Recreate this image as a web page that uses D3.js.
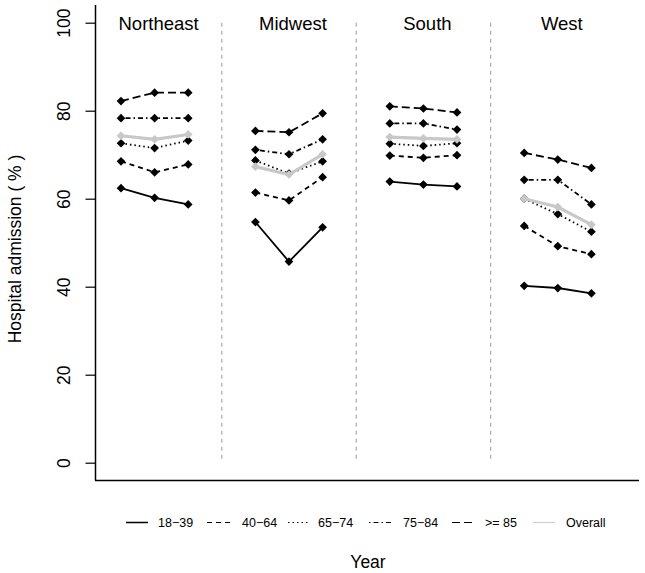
<!DOCTYPE html>
<html>
<head>
<meta charset="utf-8">
<script src="https://cdn.jsdelivr.net/npm/d3@7"></script>
<style>
  body { margin: 0; background: #fff; }
  text { font-family: "Liberation Sans", Arial, sans-serif; fill: #000; }
</style>
</head>
<body>
<div id="chart"></div>
<script>
// regions (panels) and age groups
const regions = ["Northeast", "Midwest", "South", "West"];
const periods = [1, 2, 3];
const groups = ["18−39", "40−64", "65−74", "75−84", ">= 85", "Overall"];

// values per group, 3 periods per region, regions in order above
const age1839 = [62.4, 60.2, 58.7, 54.7, 45.7, 53.5, 63.9, 63.2, 62.8, 40.2, 39.7, 38.5];
const age4064 = [68.5, 66.0, 67.8, 61.4, 59.6, 64.9, 69.8, 69.3, 69.9, 53.8, 49.2, 47.4];
const age6574 = [72.6, 71.5, 73.2, 68.7, 65.7, 68.5, 72.5, 72.0, 72.6, 60.0, 56.5, 52.5];
const age7584 = [78.3, 78.3, 78.3, 71.1, 70.1, 73.5, 77.1, 77.1, 75.7, 64.3, 64.3, 58.7];
const age85 = [82.2, 84.1, 84.1, 75.4, 75.1, 79.4, 81.0, 80.5, 79.6, 70.4, 68.9, 67.0];
const overall = [74.3, 73.5, 74.6, 67.3, 65.5, 70.1, 74.0, 73.7, 73.5, 60.0, 58.1, 54.1];

const yTicks = [0, 20, 40, 60, 80, 100];

const seriesValues = [age1839, age4064, age6574, age7584, age85, overall];
// R style line types
const dashes = [null, "5,4", "1.5,3", "1.5,3,5,3", "8,4", null];

const width = 645, height = 573;
const svg = d3.select("#chart").append("svg")
    .attr("width", width).attr("height", height);

// x: each region takes 4 units, points at 1..3 inside
const x = d3.scaleLinear().domain([0, 16]).range([87.4, 625]);
const y = d3.scaleLinear().domain([0, 100]).range([462.7, 22.7]);

// axes frame (left + bottom)
svg.append("line").attr("x1", 95.5).attr("x2", 95.5).attr("y1", 5).attr("y2", 480.5)
    .attr("stroke", "#000").attr("stroke-width", 1.5);
svg.append("line").attr("x1", 95).attr("x2", 639).attr("y1", 480.5).attr("y2", 480.5)
    .attr("stroke", "#000").attr("stroke-width", 1.5);

// y axis
let yAxis = svg.append("g").attr("transform", "translate(95.5,0)")
    .call(d3.axisLeft(y).tickValues(yTicks).tickSize(10).tickPadding(0));
yAxis.select(".domain").remove();
yAxis.selectAll(".tick line").attr("stroke-width", 1.2);
yAxis.selectAll(".tick text")
    .attr("x", null).attr("dy", null)
    .attr("transform", "translate(-25.5,0) rotate(-90)")
    .attr("text-anchor", "middle")
    .style("font-size", "17.5px")
    .style("font-family", "Liberation Sans, Arial, sans-serif");

svg.append("text")
    .attr("transform", "translate(21," + 249 + ") rotate(-90)")
    .attr("text-anchor", "middle")
    .style("font-size", "17.5px")
    .text("Hospital admission ( % )");

svg.append("text")
    .attr("x", 368).attr("y", 568)
    .attr("text-anchor", "middle")
    .style("font-size", "17.5px")
    .text("Year");

// dividers between regions
svg.selectAll(".divider").data([1, 2, 3]).enter().append("line")
    .attr("class", "divider")
    .attr("x1", d => x(d * 4)).attr("x2", d => x(d * 4))
    .attr("y1", y(100)).attr("y2", y(0))
    .attr("stroke", "#aaa").attr("stroke-width", 1.2)
    .attr("stroke-dasharray", "4,4");

// region titles
svg.selectAll(".title").data(regions).enter().append("text")
    .attr("class", "title")
    .attr("x", (d, i) => x(i * 4 + 2) + 4)
    .attr("y", 30)
    .attr("text-anchor", "middle")
    .style("font-size", "18.5px")
    .text(d => d);

const line = d3.line()
    .x(d => x(d.r * 4 + d.p))
    .y(d => y(d.v));

const diamond = d3.symbol().type(d3.symbolSquare).size(38);

seriesValues.forEach(function (vals, gi) {
    let isOverall = gi === 5;
    let col = isOverall ? "#c8c8c8" : "#000";
    regions.forEach(function (r, ri) {
        let pts = periods.map((p, pi) => ({ r: ri, p: p, v: vals[ri * 3 + pi] }));
        let g = svg.append("g");
        g.append("path")
            .attr("d", line(pts))
            .attr("fill", "none")
            .attr("stroke", col)
            .attr("stroke-width", isOverall ? 3.2 : 1.8)
            .attr("stroke-dasharray", dashes[gi]);
        g.selectAll("path.pt").data(pts).enter().append("path")
            .attr("class", "pt")
            .attr("d", diamond)
            .attr("transform", d => "translate(" + x(d.r * 4 + d.p) + "," + y(d.v) + ") rotate(45)")
            .attr("fill", col);
    });
});

// legend
const legendX = [126, 207, 288, 369, 452, 533];
const legendW = [22, 25, 20, 24, 23, 22];
let legend = svg.append("g");
groups.forEach(function (gname, gi) {
    legend.append("line")
        .attr("x1", legendX[gi]).attr("x2", legendX[gi] + legendW[gi])
        .attr("y1", 522.5).attr("y2", 522.5)
        .attr("stroke", gi === 5 ? "#d0d0d0" : "#000")
        .attr("stroke-width", gi === 0 ? 1.5 : 1.2)
        .attr("stroke-dasharray", dashes[gi]);
    legend.append("text")
        .attr("x", legendX[gi] + legendW[gi] + (gi === 5 ? 11 : 10))
        .attr("y", 527)
        .style("font-size", "12.5px")
        .text(gname);
});
</script>
</body>
</html>
